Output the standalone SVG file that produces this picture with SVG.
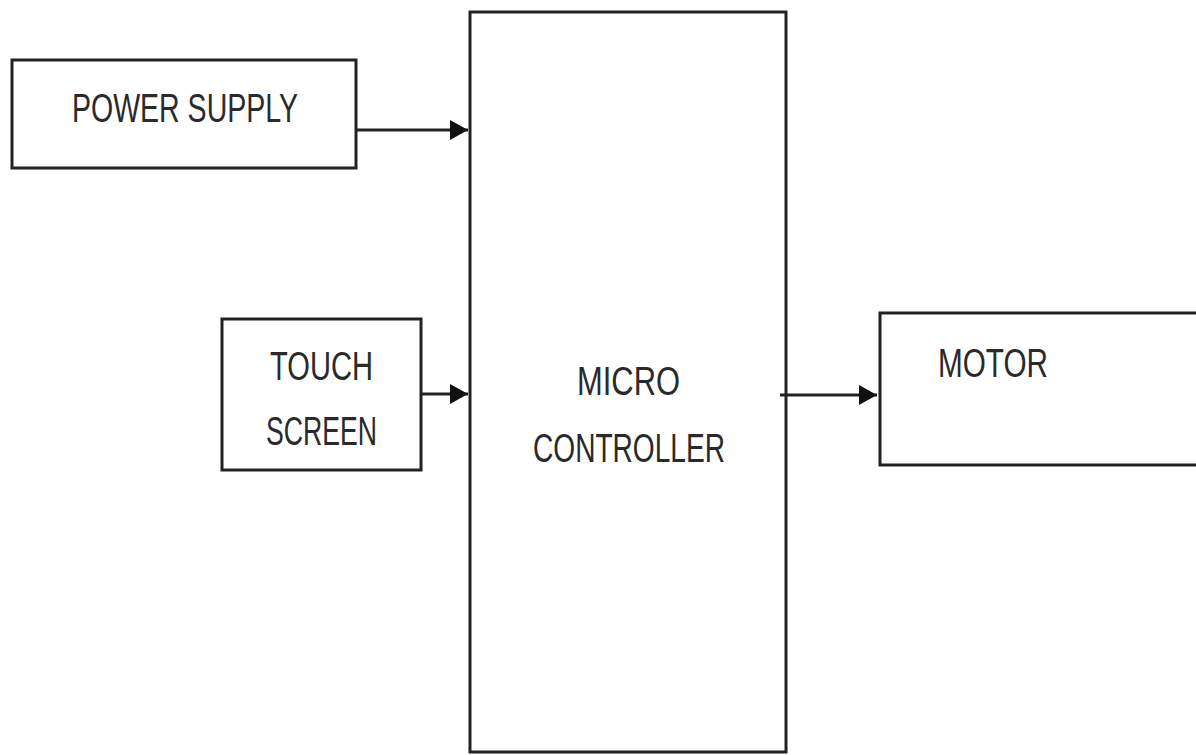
<svg xmlns="http://www.w3.org/2000/svg" width="1196" height="755" viewBox="0 0 1196 755">
<style>
.box{fill:#fff;stroke:#222;stroke-width:3}
.lbl{font-family:"Liberation Sans",Arial,sans-serif;font-size:40px;fill:#2a2a2a;}
.conn{stroke:#222;stroke-width:3;fill:none}
</style>
<defs>
<marker id="ah" viewBox="0 0 10 10" refX="10" refY="5" markerWidth="18" markerHeight="20" markerUnits="userSpaceOnUse" orient="auto" preserveAspectRatio="none">
<path d="M0,0 L10,5 L0,10 z" fill="#111"/>
</marker>
</defs>
<rect width="1196" height="755" fill="#fff"/>
<g id="micro-controller">
<rect class="box" x="470" y="12" width="316" height="740"/>
<text class="lbl" x="577" y="395" textLength="103" lengthAdjust="spacingAndGlyphs">MICRO</text>
<text class="lbl" x="533" y="462" textLength="192" lengthAdjust="spacingAndGlyphs">CONTROLLER</text>
</g>
<g id="power-supply">
<rect class="box" x="12" y="60" width="344" height="108"/>
<text class="lbl" x="72" y="122" textLength="226" lengthAdjust="spacingAndGlyphs">POWER SUPPLY</text>
</g>
<g id="touch-screen">
<rect class="box" x="222" y="319" width="199" height="151"/>
<text class="lbl" x="270" y="380" textLength="103" lengthAdjust="spacingAndGlyphs">TOUCH</text>
<text class="lbl" x="266" y="445" textLength="111" lengthAdjust="spacingAndGlyphs">SCREEN</text>
</g>
<g id="motor">
<rect class="box" x="880" y="313" width="318" height="152"/>
<text class="lbl" x="938" y="377" textLength="110" lengthAdjust="spacingAndGlyphs">MOTOR</text>
</g>
<g id="connectors">
<line class="conn" x1="357" y1="130" x2="468" y2="130" marker-end="url(#ah)"/>
<line class="conn" x1="422" y1="394" x2="468" y2="394" marker-end="url(#ah)"/>
<line class="conn" x1="780" y1="395" x2="877" y2="395" marker-end="url(#ah)"/>
</g>
</svg>
